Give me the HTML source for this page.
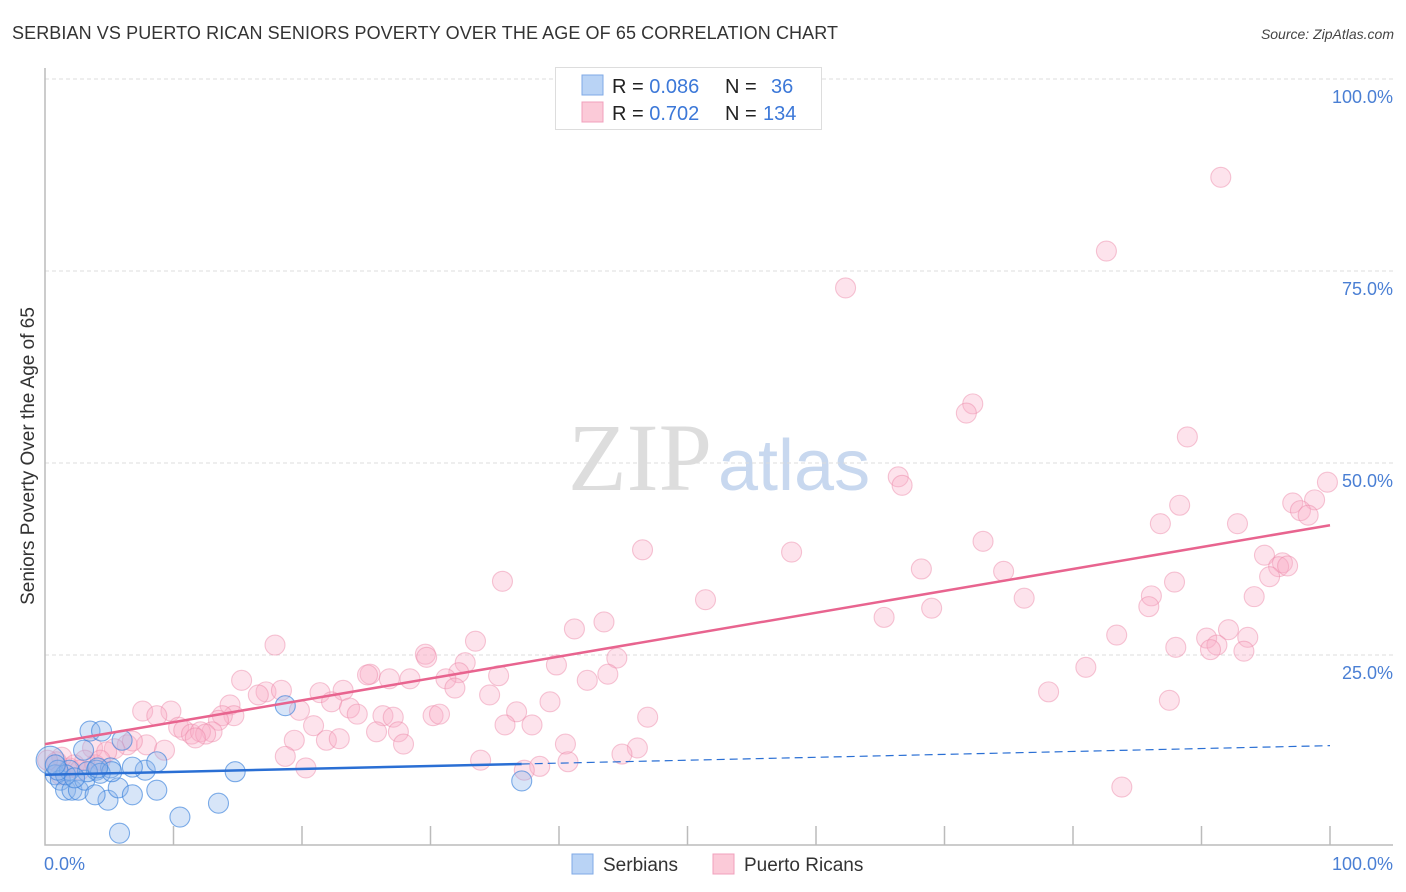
<!DOCTYPE html>
<html><head><meta charset="utf-8"><style>
body{margin:0;background:#fff;font-family:"Liberation Sans",sans-serif;}
svg{display:block}
</style></head><body>
<svg id="chart" width="1406" height="892">
<text x="12" y="39" font-size="18" fill="#333" textLength="826">SERBIAN VS PUERTO RICAN SENIORS POVERTY OVER THE AGE OF 65 CORRELATION CHART</text>
<text x="1394" y="39" font-size="14" fill="#444" font-style="italic" text-anchor="end">Source: ZipAtlas.com</text>
<text x="712" y="490" font-size="96" fill="#ddd" font-family="Liberation Serif,serif" text-anchor="end">ZIP</text>
<text x="718" y="490" font-size="72" fill="#c8d8ef">atlas</text>
<text transform="translate(34,456) rotate(-90)" font-size="19" fill="#333" text-anchor="middle">Seniors Poverty Over the Age of 65</text>
<g id="grid"></g><g id="marks"></g><g id="lines"></g>
<g>
<rect x="555.5" y="67.5" width="266" height="62" fill="#fff" stroke="#ddd"/>
<rect x="582" y="75" width="21" height="20" fill="#b9d3f5" stroke="#7fa9e6"/>
<rect x="582" y="102" width="21" height="20" fill="#fbcad8" stroke="#f0a0bc"/>
<text x="612" y="93" font-size="20" fill="#222">R = <tspan fill="#3c78d8">0.086</tspan><tspan x="725">N =</tspan><tspan x="771" fill="#3c78d8">36</tspan></text>
<text x="612" y="120" font-size="20" fill="#222">R = <tspan fill="#3c78d8">0.702</tspan><tspan x="725">N =</tspan><tspan x="763" fill="#3c78d8">134</tspan></text>
</g>
<g>
<rect x="572" y="854" width="21" height="20" fill="#b9d3f5" stroke="#7fa9e6"/>
<text x="603" y="871" font-size="19" fill="#333">Serbians</text>
<rect x="713" y="854" width="21" height="20" fill="#fbcad8" stroke="#f0a0bc"/>
<text x="744" y="871" font-size="19" fill="#333">Puerto Ricans</text>
</g>
<text x="44" y="870" font-size="18" fill="#4a7fd4">0.0%</text>
<text x="1393" y="870" font-size="18" fill="#4a7fd4" text-anchor="end">100.0%</text>
</svg>
<script>
const blueX=[0.4,0.8,1.2,1.6,2.1,2.6,3.1,3.5,4.4,3.0,4.0,5.1,6.0,4.3,4.9,5.7,6.8,7.8,8.7,8.7,6.8,10.5,13.5,14.8,18.7,37.1,5.8,1.9,1.6,1.0,3.3,2.3,3.9,5.2,4.1,0.8];
const blueY=[11.3,9.4,8.7,7.4,7.4,7.4,8.7,15.1,15.1,12.6,10.0,10.3,13.9,9.6,6.1,7.7,6.8,10.0,7.4,11.1,10.4,3.9,5.7,9.8,18.4,8.6,1.8,10.0,9.4,10.0,9.8,9.0,6.8,9.8,10.3,10.7];
const pinkX=[91.5,82.6,62.3,72.2,71.7,88.9,66.4,66.7,99.8,98.8,97.1,88.3,97.7,98.3,86.8,92.8,73.0,46.5,58.1,94.9,96.3,96.0,96.7,95.3,68.2,74.6,87.9,35.6,94.1,51.4,76.2,86.1,85.9,69.0,65.3,83.4,92.1,90.4,93.6,91.2,88.0,90.7,93.3,41.2,43.5,33.5,17.9,44.5,29.6,29.7,32.7,39.8,35.3,42.2,43.8,32.2,25.3,25.1,15.3,26.8,28.4,31.2,31.9,81.0,23.2,21.4,34.6,17.2,16.6,18.4,14.4,22.3,39.3,78.1,87.5,19.8,23.7,7.6,9.8,36.7,46.9,8.7,14.7,13.8,24.3,26.3,27.1,30.2,30.7,13.5,10.4,20.9,10.8,35.8,37.9,25.8,27.5,13.0,11.4,12.1,12.5,11.7,21.9,22.9,6.4,7.9,9.3,6.8,5.4,3.7,4.8,19.4,27.9,40.5,46.1,44.9,18.7,33.9,38.5,40.7,37.3,83.8,20.3,1.9,1.3,0.9,2.3,2.7,3.9,3.1,4.3,0.2,1.2];
const pinkY=[87.2,77.6,72.8,57.7,56.5,53.4,48.2,47.1,47.5,45.2,44.8,44.5,43.8,43.2,42.1,42.1,39.8,38.7,38.4,38.0,37.0,36.5,36.6,35.2,36.2,35.9,34.5,34.6,32.6,32.2,32.4,32.7,31.3,31.1,29.9,27.6,28.3,27.2,27.3,26.3,26.0,25.7,25.5,28.4,29.3,26.8,26.3,24.6,25.1,24.7,24.0,23.7,22.3,21.7,22.5,22.7,22.5,22.4,21.7,21.9,21.9,21.9,20.7,23.4,20.4,20.1,19.8,20.2,19.8,20.4,18.5,18.9,18.9,20.2,19.1,17.8,18.1,17.7,17.7,17.6,16.9,17.1,17.1,17.1,17.3,17.1,16.9,17.1,17.3,16.5,15.6,15.8,15.2,15.9,15.9,15.0,15.0,15.0,14.7,15.0,14.7,14.2,13.9,14.1,13.3,13.3,12.6,13.8,12.8,12.9,12.4,13.9,13.4,13.4,12.9,12.1,11.8,11.3,10.5,11.1,10.0,7.8,10.3,10.3,11.7,11.1,10.7,10.0,10.7,11.3,11.3,11.3,9.4];
const yTicks=[25,50,75,100];
const pinkTrend=[13.4,41.9];
const blueTrend=[9.4,13.2];
const blueSolidEnd=37.1;

const NS="http://www.w3.org/2000/svg";
const X0=45,X1=1330,Y0=847,Y100=79;
const sx=v=>X0+(X1-X0)*v/100;
const sy=v=>Y0-(Y0-Y100)*v/100;
function mk(tag,attrs,parent){const e=document.createElementNS(NS,tag);for(const k in attrs)e.setAttribute(k,attrs[k]);parent.appendChild(e);return e;}
const grid=document.getElementById('grid'),marks=document.getElementById('marks'),lines=document.getElementById('lines');
yTicks.forEach(t=>{
  const l=mk('line',{x1:45,x2:1393,y1:sy(t),y2:sy(t),stroke:'#ddd','stroke-dasharray':'4,3'},grid);
  
  
  const tx=mk('text',{x:1393,y:sy(t)+24,'font-size':18,fill:'#4a7fd4','text-anchor':'end'},grid);
  tx.textContent=t.toFixed(1)+'%';
  
  
});
const ax=mk('path',{d:'M45,68V845H1393',stroke:'#bbb',fill:'none','stroke-width':1.5},grid);


for(let i=1;i<=10;i++){
  const t=mk('line',{x1:sx(i*10),x2:sx(i*10),y1:826,y2:845,stroke:'#bbb','stroke-width':1.5},grid);
  
  
}
pinkX.forEach((x,i)=>{
  const c=mk('circle',{cx:sx(x),cy:sy(pinkY[i]),r:10,fill:'rgba(248,175,200,0.35)',stroke:'rgba(235,130,165,0.45)','stroke-width':1.1},marks);
  
  
});
blueX.forEach((x,i)=>{
  const c=mk('circle',{cx:sx(x),cy:sy(blueY[i]),r:i===0?14:10,fill:'rgba(140,180,235,0.35)',stroke:'rgba(60,130,220,0.65)','stroke-width':1.1},marks);
  
  
});
const bAt=v=>blueTrend[0]+(blueTrend[1]-blueTrend[0])*v/100;
const pl=mk('line',{x1:sx(0),y1:sy(pinkTrend[0]),x2:sx(100),y2:sy(pinkTrend[1]),stroke:'#e8648f','stroke-width':2.5},lines);


const bl=mk('line',{x1:sx(0),y1:sy(bAt(0)),x2:sx(blueSolidEnd),y2:sy(bAt(blueSolidEnd)),stroke:'#2a6fd4','stroke-width':2.5},lines);


const bd=mk('line',{x1:sx(blueSolidEnd),y1:sy(bAt(blueSolidEnd)),x2:sx(100),y2:sy(bAt(100)),stroke:'#2a6fd4','stroke-width':1.2,'stroke-dasharray':'8,5'},lines);


</script>
</body></html>
